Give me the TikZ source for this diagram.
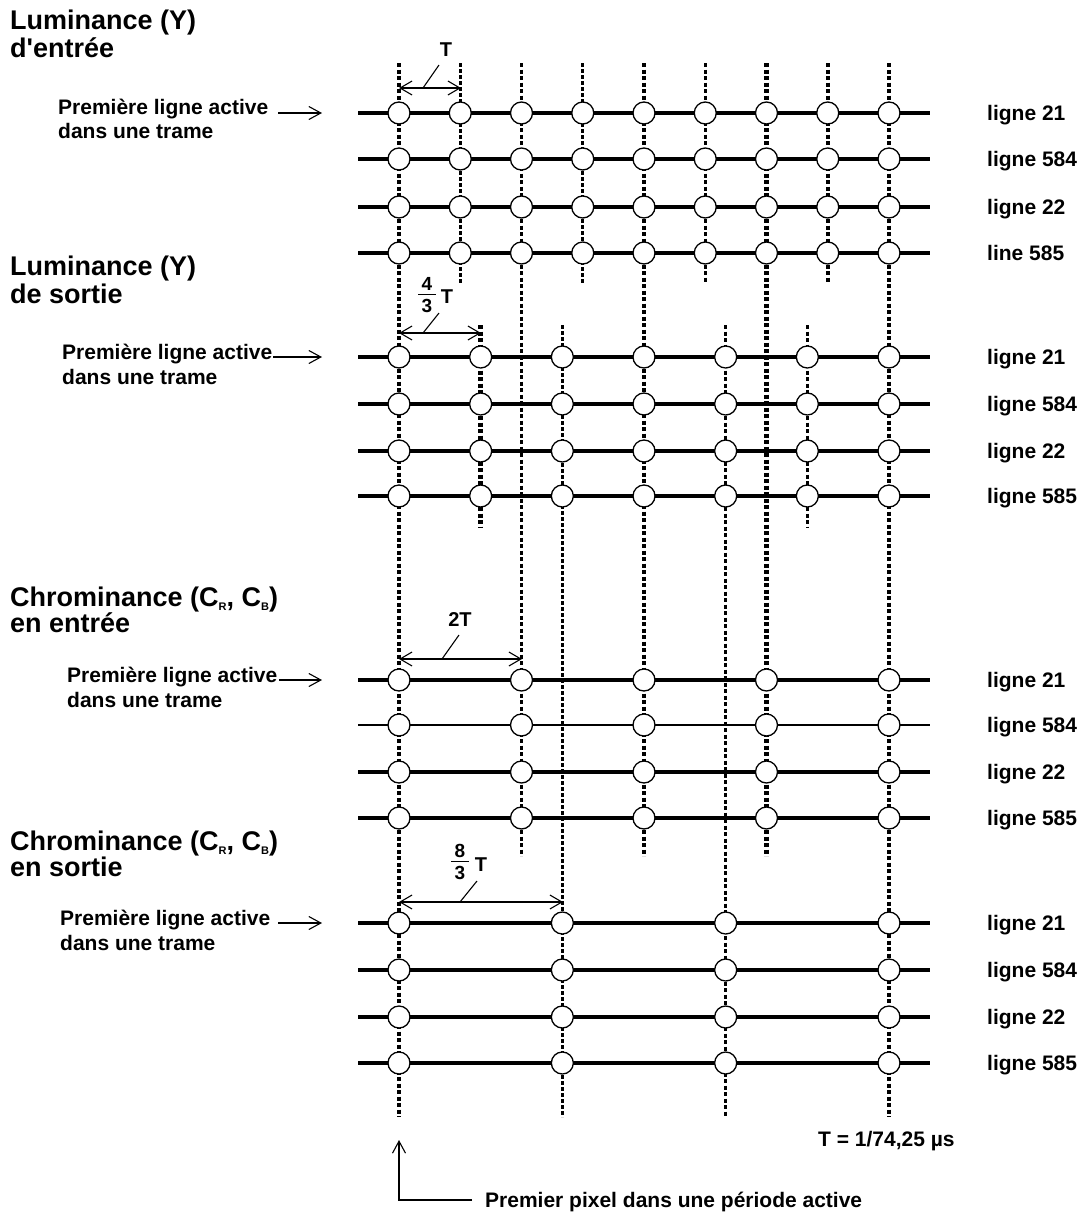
\documentclass[tikz,border=0pt]{standalone}
\usepackage{fontspec}
\setmainfont{Liberation Sans}[Ligatures=TeXOff]
\usetikzlibrary{arrows.meta}
\begin{document}
\begin{tikzpicture}[x=1pt,y=-1pt,
  every node/.style={inner sep=0pt},
  title/.style={anchor=base west, font=\bfseries\fontsize{27}{30}\selectfont},
  lbl/.style={anchor=base west, font=\bfseries\fontsize{21}{24}\selectfont},
  dimlbl/.style={font=\bfseries\fontsize{20}{22}\selectfont},
  fraclbl/.style={font=\bfseries\fontsize{19}{21}\selectfont},
  fracbar/.style={line width=1.5pt},
  pix/.style={circle, draw, fill=white, line width=1.3pt, minimum size=22pt},
  rowthick/.style={line width=4.5pt},
  rowmid/.style={line width=3.5pt},
  rowthin/.style={line width=2pt},
  vthick/.style={line width=4.5pt, dash pattern=on 4pt off 2.5pt},
  vmed/.style={line width=3.5pt, dash pattern=on 4pt off 2.5pt},
  vthin/.style={line width=2.7pt, dash pattern=on 3.5pt off 2.5pt},
  dimarrow/.style={line width=1.1pt, {Straight Barb[length=12pt,width=14pt]}-{Straight Barb[length=12pt,width=14pt]}},
  leader/.style={line width=1.1pt},
  ptr/.style={line width=1.1pt, -{Straight Barb[length=12pt,width=13pt]}},
]
\fill[white] (0,0) rectangle (1089,1219);
\useasboundingbox (0,0) rectangle (1089,1219);

% ---------- vertical sample lines ----------
\draw[vthick] (399,63) -- (399,1117);
\draw[vthin]  (460.25,63) -- (460.25,283);
\draw[vmed]   (521.5,63) -- (521.5,856);
\draw[vthin]  (582.75,63) -- (582.75,283);
\draw[vmed]   (644,63) -- (644,856);
\draw[vmed]   (705.25,63) -- (705.25,283);
\draw[vthick] (766.5,63) -- (766.5,856);
\draw[vmed]   (827.75,63) -- (827.75,283);
\draw[vmed]   (889,63) -- (889,1117);
\draw[vthick] (480.67,325) -- (480.67,528);
\draw[vthin]  (562.33,325) -- (562.33,1117);
\draw[vmed]   (725.67,325) -- (725.67,1117);
\draw[vmed]   (807.33,325) -- (807.33,528);

% ---------- horizontal lines ----------
\foreach \y in {113,159,207,253} \draw[rowthick] (358,\y) -- (930,\y);
\draw[rowthick] (358,357) -- (930,357);
\draw[rowmid]   (358,404) -- (930,404);
\draw[rowthick] (358,451) -- (930,451);
\draw[rowmid]   (358,496) -- (930,496);
\draw[rowthick] (358,680) -- (930,680);
\draw[rowthin]  (358,725) -- (930,725);
\draw[rowthick] (358,772) -- (930,772);
\draw[rowthick] (358,818) -- (930,818);
\draw[rowthick] (358,923) -- (930,923);
\draw[rowmid]   (358,970) -- (930,970);
\draw[rowthick] (358,1017) -- (930,1017);
\draw[rowthick] (358,1063) -- (930,1063);

% ---------- pixels ----------
\foreach[count=\r] \y in {113,159,207,253}
  \foreach \k in {0,...,8}
    \node[pix] (a-\r-\k) at ({399+61.25*\k},\y) {};
\foreach[count=\r] \y in {357,404,451,496}
  \foreach \k in {0,...,6}
    \node[pix] (b-\r-\k) at ({399+81.6667*\k},\y) {};
\foreach[count=\r] \y in {680,725,772,818}
  \foreach \k in {0,...,4}
    \node[pix] (c-\r-\k) at ({399+122.5*\k},\y) {};
\foreach[count=\r] \y in {923,970,1017,1063}
  \foreach \k in {0,...,3}
    \node[pix] (d-\r-\k) at ({399+163.3333*\k},\y) {};

% ---------- titles ----------
\newcommand{\subidx}[1]{\raisebox{-0.3ex}{\fontsize{11}{11}\selectfont #1}}
\node[title] (t1a) at (10,29) {Luminance (Y)};
\node[title] (t1b) at (10,57) {d'entrée};
\node[title] (t2a) at (10,275) {Luminance (Y)};
\node[title] (t2b) at (10,303) {de sortie};
\node[title] (t3a) at (10,606) {Chrominance (C\subidx{R}, C\subidx{B})};
\node[title] (t3b) at (10,632) {en entrée};
\node[title] (t4a) at (10,850) {Chrominance (C\subidx{R}, C\subidx{B})};
\node[title] (t4b) at (10,876) {en sortie};

% ---------- first active line labels ----------
\node[lbl] (p1a) at (58,114) {Première ligne active};
\node[lbl] (p1b) at (58,138) {dans une trame};
\coordinate (p1s) at (278,113); \coordinate (p1e) at (322,113);
\draw[ptr] (p1s) -- (p1e);
\node[lbl] (p2a) at (62,359) {Première ligne active};
\node[lbl] (p2b) at (62,384) {dans une trame};
\coordinate (p2s) at (273,357); \coordinate (p2e) at (322,357);
\draw[ptr] (p2s) -- (p2e);
\node[lbl] (p3a) at (67,682) {Première ligne active};
\node[lbl] (p3b) at (67,707) {dans une trame};
\coordinate (p3s) at (279,680); \coordinate (p3e) at (322,680);
\draw[ptr] (p3s) -- (p3e);
\node[lbl] (p4a) at (60,925) {Première ligne active};
\node[lbl] (p4b) at (60,950) {dans une trame};
\coordinate (p4s) at (278,923); \coordinate (p4e) at (322,923);
\draw[ptr] (p4s) -- (p4e);

% ---------- line names ----------
\foreach \y/\t [count=\i] in {113/ligne 21,159/ligne 584,207/ligne 22,253/line 585,
  357/ligne 21,404/ligne 584,451/ligne 22,496/ligne 585,
  680/ligne 21,725/ligne 584,772/ligne 22,818/ligne 585,
  923/ligne 21,970/ligne 584,1017/ligne 22,1063/ligne 585}
  \node[lbl] (ln-\i) at (987,\y+7) {\t};

% ---------- dimensions ----------
\coordinate (d1a) at (399,88); \coordinate (d1b) at (461,88);
\draw[dimarrow] (d1a) -- (d1b);
\node[dimlbl] (T1) at (446,50) {T};
\coordinate (l1a) at (423,88); \coordinate (l1b) at (439,65);
\draw[leader] (l1a) -- (l1b);

\coordinate (d2a) at (399,333); \coordinate (d2b) at (481,333);
\draw[dimarrow] (d2a) -- (d2b);
\node[fraclbl] (f2n) at (427,284) {4};
\node[fraclbl] (f2d) at (427,306) {3};
\draw[fracbar] (418,294.5) -- (436,294.5);
\node[dimlbl] (T2) at (447,297) {T};
\coordinate (l2a) at (423,333); \coordinate (l2b) at (439,313);
\draw[leader] (l2a) -- (l2b);

\coordinate (d3a) at (399,659); \coordinate (d3b) at (522,659);
\draw[dimarrow] (d3a) -- (d3b);
\node[dimlbl] (T3) at (460,620) {2T};
\coordinate (l3a) at (442,659); \coordinate (l3b) at (459,635);
\draw[leader] (l3a) -- (l3b);

\coordinate (d4a) at (399,902); \coordinate (d4b) at (563,902);
\draw[dimarrow] (d4a) -- (d4b);
\node[fraclbl] (f4n) at (460,851) {8};
\node[fraclbl] (f4d) at (460,873) {3};
\draw[fracbar] (451,861.5) -- (469,861.5);
\node[dimlbl] (T4) at (481,865) {T};
\coordinate (l4a) at (460,902); \coordinate (l4b) at (477,881);
\draw[leader] (l4a) -- (l4b);

% ---------- bottom ----------
\node[lbl] (tdef) at (818,1146) {T = 1/74,25 µs};
\node[lbl] (first) at (485,1207) {Premier pixel dans une période active};
\coordinate (fp0) at (472,1200);
\coordinate (fp1) at (399,1140);
\draw[ptr] (fp0) -| (fp1);
\end{tikzpicture}
\end{document}
